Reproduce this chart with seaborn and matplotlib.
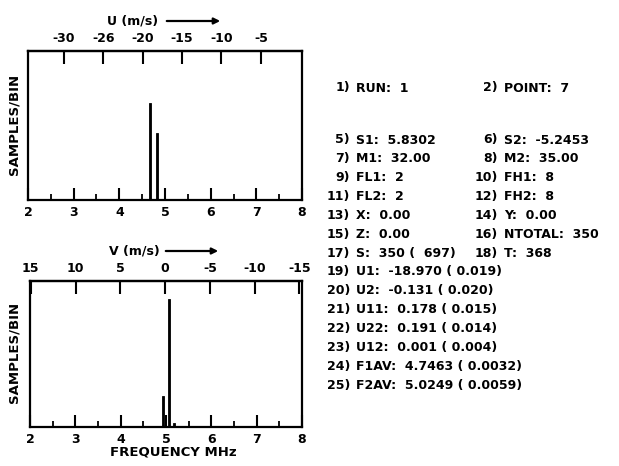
import numpy as np
import pandas as pd
import matplotlib
matplotlib.use("Agg")
import matplotlib.pyplot as plt
import seaborn as sns

# ---------------- data ----------------
u_freq = [4.68, 4.82]          # MHz
u_counts = [65, 45]            # samples/bin
v_freq = [4.94, 5.06, 5.18]
v_counts = [21, 88, 3]

freq_ticks = [2, 3, 4, 5, 6, 7, 8]
freq_minor = [2.5, 3.5, 4.5, 5.5, 6.5, 7.5]

u_ticks = [-30, -25, -20, -15, -10, -5]
u_tick_labels = ["-30", "-26", "-20", "-15", "-10", "-5"]
v_ticks = [15, 10, 5, 0, -5, -10, -15]
v_tick_labels = ["15", "10", "5", "0", "-5", "-10", "-15"]

left_nums = ["1)", "5)", "7)", "9)", "11)", "13)", "15)", "17)",
             "19)", "20)", "21)", "22)", "23)", "24)", "25)"]
left_text = ["RUN:  1", "S1:  5.8302", "M1:  32.00", "FL1:  2", "FL2:  2",
             "X:  0.00", "Z:  0.00", "S:  350 (  697)",
             "U1:  -18.970 ( 0.019)", "U2:  -0.131 ( 0.020)",
             "U11:  0.178 ( 0.015)", "U22:  0.191 ( 0.014)",
             "U12:  0.001 ( 0.004)", "F1AV:  4.7463 ( 0.0032)",
             "F2AV:  5.0249 ( 0.0059)"]
left_rows = [0, 3, 4, 5, 6, 7, 8, 9, 10, 11, 12, 13, 14, 15, 16]
right_nums = ["2)", "6)", "8)", "10)", "12)", "14)", "16)", "18)"]
right_text = ["POINT:  7", "S2:  -5.2453", "M2:  35.00", "FH1:  8", "FH2:  8",
              "Y:  0.00", "NTOTAL:  350", "T:  368"]
right_rows = [0, 3, 4, 5, 6, 7, 8, 9]

# ---------------- style ----------------
sns.set_theme(style="white")
plt.rcParams["font.family"] = ["DejaVu Sans"]
plt.rcParams["font.weight"] = "bold"
for k in ["text.color", "xtick.color", "ytick.color", "axes.labelcolor",
          "axes.edgecolor"]:
    plt.rcParams[k] = "black"

W, H = 619, 466
fig = plt.figure(figsize=(W / 100, H / 100), dpi=100)


def fx(x):
    return x / W


def fy(y):
    return 1 - y / H


def make_axes(l, t, r, b):
    return fig.add_axes([fx(l), fy(b), (r - l) / W, (b - t) / H])


ax_u = make_axes(28, 51, 302, 200)
ax_v = make_axes(30, 281, 302, 427)

BAR_W = 0.045
FS = 9


def draw_panel(ax, freqs, counts, f2s, s2f, sticks, slabels):
    w = BAR_W / np.min(np.diff(sorted(freqs)))
    df = pd.DataFrame({"freq": freqs, "count": counts})
    sns.barplot(data=df, x="freq", y="count", native_scale=True, orient="x",
                width=w, color="black", errorbar=None, ax=ax,
                edgecolor="black", linewidth=0.6)
    ax.set_xlim(2, 8)
    ax.set_ylim(0, 100)
    ax.set_yticks([])
    ax.set_xlabel("")
    ax.set_ylabel("")
    ax.set_xticks(freq_ticks)
    ax.set_xticklabels([str(t) for t in freq_ticks], fontsize=FS,
                       fontweight="bold", color="black")
    ax.set_xticks(freq_minor, minor=True)
    ax.tick_params(axis="x", which="major", direction="in", length=9,
                   width=1.5, color="black", pad=4, bottom=True, top=False,
                   labelcolor="black")
    ax.tick_params(axis="x", which="minor", direction="in", length=4.5,
                   width=1.3, color="black", bottom=True, top=False)
    for s in ax.spines.values():
        s.set_visible(True)
        s.set_linewidth(1.6)
        s.set_color("black")
    sec = ax.secondary_xaxis("top", functions=(f2s, s2f))
    sec.set_xticks(sticks)
    sec.set_xticklabels(slabels, fontsize=FS, fontweight="bold",
                        color="black")
    sec.tick_params(axis="x", which="major", direction="in", length=9,
                    width=1.5, color="black", pad=4, labelcolor="black")
    sec.tick_params(axis="x", which="minor", length=0)
    sec.spines["top"].set_linewidth(1.6)
    sec.spines["top"].set_color("black")
    return sec


# velocity scales
u_f0, u_slope = 4.51, 5.79    # U = -20 + (f - f0) * slope
v_f0, v_slope = 4.98, 5.06    # V = (f0 - f) * slope

draw_panel(ax_u, u_freq, u_counts,
           lambda f: -20 + (np.asarray(f) - u_f0) * u_slope,
           lambda u: u_f0 + (np.asarray(u) + 20) / u_slope,
           u_ticks, u_tick_labels)
draw_panel(ax_v, v_freq, v_counts,
           lambda f: (v_f0 - np.asarray(f)) * v_slope,
           lambda v: v_f0 - np.asarray(v) / v_slope,
           v_ticks, v_tick_labels)

# axis titles
tk = dict(fontsize=FS, fontweight="bold", color="black")
fig.text(fx(14), fy(124), "SAMPLES/BIN", rotation=90, ha="center",
         va="center", fontsize=9.5, fontweight="bold", color="black")
fig.text(fx(14), fy(352), "SAMPLES/BIN", rotation=90, ha="center",
         va="center", fontsize=9.5, fontweight="bold", color="black")
fig.text(fx(173), fy(452), "FREQUENCY MHz", ha="center", va="center",
         fontsize=9.5, fontweight="bold", color="black")

fig.text(fx(107), fy(21), "U (m/s)", ha="left", va="center", **tk)
fig.text(fx(109), fy(251), "V (m/s)", ha="left", va="center", **tk)
for (x0, x1, y) in [(164, 223, 21), (163, 221, 251)]:
    fig.add_artist(matplotlib.patches.FancyArrowPatch(
        (fx(x0), fy(y)), (fx(x1), fy(y)), transform=fig.transFigure,
        arrowstyle="-|>", mutation_scale=9, lw=1.6, color="black"))

# parameter listing (baselines)
y_first, y_row3, spacing = 91.5, 143.5, 18.85


def row_y(r):
    return y_first if r == 0 else y_row3 + (r - 3) * spacing


txt = dict(fontsize=FS, fontweight="bold", va="baseline", color="black")
for n, t, r in zip(left_nums, left_text, left_rows):
    fig.text(fx(350), fy(row_y(r)), n, ha="right", **txt)
    fig.text(fx(356), fy(row_y(r)), t, ha="left", **txt)
for n, t, r in zip(right_nums, right_text, right_rows):
    fig.text(fx(498), fy(row_y(r)), n, ha="right", **txt)
    fig.text(fx(504), fy(row_y(r)), t, ha="left", **txt)

fig.savefig("out.png", dpi=100)
